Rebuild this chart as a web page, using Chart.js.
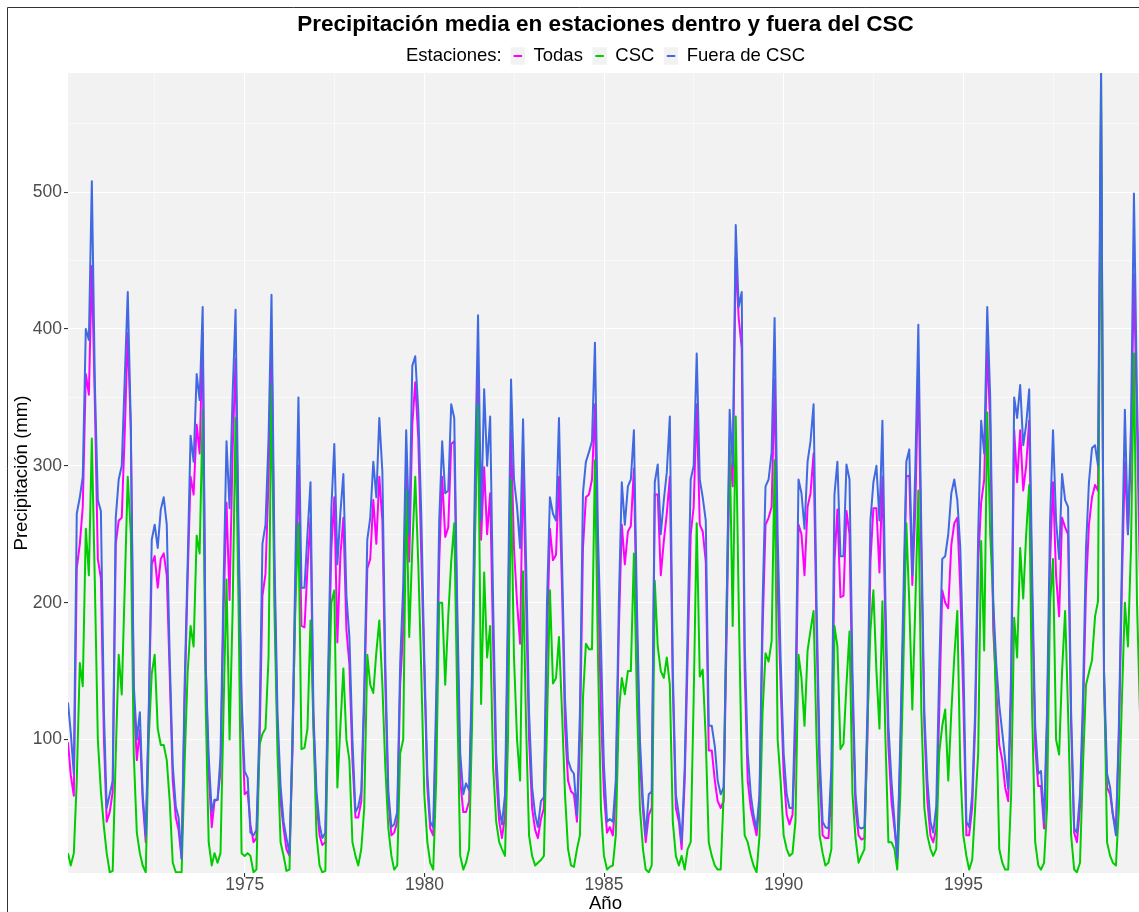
<!DOCTYPE html>
<html>
<head>
<meta charset="utf-8">
<script src="https://cdn.jsdelivr.net/npm/chart.js@4.4.0/dist/chart.umd.min.js"></script>
<style>
html, body { margin: 0; padding: 0; background: #ffffff; overflow: hidden; width: 1139px; height: 912px; }
#wrap { position: absolute; left: 0; top: 0; width: 1152px; height: 930px; }
</style>
</head>
<body>
<div id="wrap"><canvas id="c" width="1152" height="930"></canvas></div>
<script>
// ---------- texts ----------
const chartTitle = 'Precipitación media en estaciones dentro y fuera del CSC';
const legendTitle = 'Estaciones:';
const seriesNames = ['Todas', 'CSC', 'Fuera de CSC'];
const xAxisTitle = 'Año';
const yAxisTitle = 'Precipitación (mm)';

// ---------- tick values ----------
const xMajorTicks = [1975, 1980, 1985, 1990, 1995];
const xMinorTicks = [1972.5, 1977.5, 1982.5, 1987.5, 1992.5, 1997.5];
const yMajorTicks = [100, 200, 300, 400, 500];
const yMinorTicks = [50, 150, 250, 350, 450, 550];

// ---------- categories: monthly, Jan 1970 - Dec 1999 ----------
const startYear = 1970;
const nYears = 30;
const monthLabels = [];
for (let y = startYear; y < startYear + nYears; y++) {
  for (let m = 1; m <= 12; m++) monthLabels.push(y + '-' + String(m).padStart(2, '0'));
}

// ---------- series values (mm), one row per year ----------
const todas = [
  98,74,59,225,243,270,367,352,446,345,232,218,
  100,40,47,62,243,260,262,326,397,326,130,85,
  107,55,25,115,228,234,211,232,236,220,148,70,
  43,34,13,126,217,292,279,330,309,397,156,75,
  36,55,56,77,194,273,202,311,378,232,122,60,
  62,38,25,28,95,205,221,290,397,210,105,55,
  35,20,15,90,210,300,183,182,225,262,110,55,
  30,23,25,140,240,277,171,235,262,180,155,85,
  43,43,55,125,225,232,275,243,292,260,140,55,
  30,32,40,140,180,298,230,330,361,320,235,150,
  65,35,30,110,230,292,248,255,316,318,180,70,
  47,47,55,140,270,367,246,299,250,280,170,75,
  40,28,45,180,326,240,200,170,303,200,100,50,
  34,28,42,50,170,254,231,235,292,210,110,70,
  62,60,40,100,240,277,279,290,345,220,120,60,
  32,36,30,60,180,257,228,252,256,298,180,85,
  48,25,45,50,279,279,220,245,265,292,140,50,
  40,20,70,160,250,270,345,257,252,230,92,92,
  70,55,50,55,180,311,285,453,408,386,150,70,
  50,40,30,55,180,257,262,270,363,210,140,75,
  45,38,45,100,257,250,220,270,280,309,180,75,
  30,28,28,60,230,268,204,205,267,250,130,50,
  30,27,28,100,230,269,269,222,292,180,95,55,
  35,15,90,180,292,293,213,270,371,230,110,55,
  30,25,35,120,209,200,196,242,258,262,210,130,
  30,30,50,110,230,273,290,386,330,180,138,96,
  85,65,55,130,326,288,326,282,300,333,200,95,
  66,66,35,110,230,288,220,190,262,255,250,110,
  32,25,50,115,210,257,277,286,282,560,140,65,
  60,45,35,100,215,303,250,310,440,330,220,150
];
const csc = [
  17,8,17,70,156,139,254,220,320,213,100,62,
  36,17,3,4,89,162,133,213,292,250,89,32,
  17,8,3,100,148,162,108,96,96,85,55,10,
  3,3,3,81,149,183,168,249,236,341,126,25,
  8,17,10,17,122,217,100,194,335,194,17,15,
  17,15,3,5,96,104,108,160,360,190,90,25,
  15,4,5,100,200,258,93,94,108,187,110,30,
  8,3,4,120,200,209,65,110,152,100,85,25,
  15,8,20,50,162,140,134,164,187,140,80,35,
  15,5,8,90,100,282,175,240,292,228,150,60,
  25,10,5,70,200,200,140,190,230,258,130,15,
  5,10,20,110,250,345,126,222,160,183,80,40,
  25,20,15,100,290,160,100,70,223,110,30,15,
  8,10,12,15,110,209,141,145,175,120,60,20,
  8,7,20,30,130,170,166,166,304,160,50,15,
  5,7,8,30,120,145,133,150,150,236,130,50,
  20,5,3,8,216,168,150,145,160,140,40,15,
  8,15,5,20,25,130,258,146,151,100,25,15,
  8,5,5,60,200,320,183,336,200,80,30,25,
  15,8,3,30,120,163,157,172,304,100,70,30,
  20,15,17,40,162,145,110,165,180,194,100,30,
  17,8,10,20,183,168,93,97,140,179,60,28,
  10,15,20,110,180,209,150,108,201,100,25,25,
  20,5,60,150,258,200,122,200,282,120,50,30,
  20,15,20,90,110,122,70,120,160,194,80,30,
  15,5,12,50,90,245,165,339,250,200,120,20,
  10,5,5,60,189,160,240,203,250,286,120,25,
  8,5,10,50,200,232,100,89,150,194,120,30,
  5,3,10,80,140,149,158,190,201,587,150,25,
  15,10,8,50,130,200,168,240,382,200,120,50
];
const fuera = [
  127,105,75,265,277,292,400,392,508,360,275,267,
  120,50,60,70,262,290,300,365,427,330,140,100,
  120,60,30,119,246,257,240,268,277,257,160,81,
  51,43,13,138,228,322,303,367,348,416,156,88,
  47,56,56,88,213,318,269,352,414,250,130,77,
  72,32,30,34,110,243,257,320,425,230,119,66,
  40,28,17,100,232,350,211,211,250,288,119,62,
  38,28,32,156,269,316,228,266,294,205,175,100,
  47,51,62,138,246,262,303,277,335,296,156,62,
  36,38,47,156,213,326,250,373,380,340,265,160,
  75,40,36,130,260,318,280,282,345,335,200,90,
  60,68,63,150,300,410,260,356,300,336,200,90,
  50,38,60,200,363,290,270,240,334,230,120,65,
  45,36,55,58,200,277,265,260,335,230,130,85,
  78,75,45,120,280,303,310,318,390,250,170,80,
  40,42,40,70,200,288,257,285,290,326,200,100,
  55,30,60,62,288,301,250,275,295,336,150,60,
  45,25,80,180,290,300,382,290,277,260,110,110,
  95,70,60,65,200,341,300,476,416,427,170,90,
  60,45,35,60,200,285,290,310,408,250,160,90,
  60,50,50,130,290,280,254,303,318,345,200,90,
  40,36,35,80,279,303,234,234,301,290,150,60,
  36,35,36,120,260,288,300,260,333,200,110,70,
  40,13,100,200,303,312,220,300,403,250,120,70,
  40,32,51,150,232,234,250,280,290,275,240,160,
  40,36,60,120,250,333,309,416,350,200,156,125,
  105,85,64,150,350,335,359,315,330,356,220,110,
  75,77,40,120,260,326,260,232,294,275,270,120,
  35,32,60,130,240,288,313,315,300,587,150,75,
  65,45,30,110,230,341,250,330,499,350,250,180
];

// ---------- styles ----------
const FONT = "'Liberation Sans', Arial, Helvetica, sans-serif";
const seriesColors = ['#FF00FF', '#00CD00', '#4169E1'];
const panelColor = '#F2F2F2';

// month label -> decimal year (month-end date)
function labelToYear(lbl) {
  const parts = lbl.split('-').map(Number);
  const y = parts[0], m = parts[1];
  const d = Date.UTC(y, m, 0);
  const s = Date.UTC(y, 0, 1), e = Date.UTC(y + 1, 0, 1);
  return y + (d - s) / (e - s);
}
const xs = monthLabels.map(labelToYear);
const toPoints = arr => arr.map((v, i) => ({ x: xs[i], y: v }));

const bgPlugin = {
  id: 'bgPanel',
  beforeDraw(chart) {
    const { ctx, chartArea: ca, width, height } = chart;
    ctx.save();
    ctx.fillStyle = '#ffffff';
    ctx.fillRect(0, 0, width, height);
    ctx.strokeStyle = '#333333';
    ctx.lineWidth = 1;
    ctx.beginPath();
    ctx.moveTo(7.5, height);
    ctx.lineTo(7.5, 7.5);
    ctx.lineTo(width, 7.5);
    ctx.stroke();
    ctx.fillStyle = panelColor;
    ctx.fillRect(ca.left, ca.top, ca.right - ca.left, ca.bottom - ca.top);
    ctx.restore();
  }
};

const legendPlugin = {
  id: 'rowLegend',
  afterDraw(chart) {
    const { ctx, chartArea: ca } = chart;
    const fontSize = 18.5;
    const keyW = 14.4, keyH = 17.3, dash = 8.5;
    const gapTitle = 9, gapKeyText = 8.5, gapItem = 9.5;
    const cy = 56;
    ctx.save();
    ctx.font = fontSize + 'px ' + FONT;
    ctx.textBaseline = 'middle';
    ctx.textAlign = 'left';
    const items = chart.data.datasets.map(d => ({ text: d.label, color: d.borderColor }));
    const titleW = ctx.measureText(legendTitle).width;
    let total = titleW + gapTitle;
    items.forEach((it, i) => {
      total += keyW + gapKeyText + ctx.measureText(it.text).width + (i < items.length - 1 ? gapItem : 0);
    });
    let x = (ca.left + ca.right) / 2 - total / 2;
    ctx.fillStyle = '#000000';
    ctx.fillText(legendTitle, x, cy);
    x += titleW + gapTitle;
    items.forEach(it => {
      ctx.fillStyle = panelColor;
      ctx.fillRect(x, cy - keyH / 2, keyW, keyH);
      ctx.strokeStyle = it.color;
      ctx.lineWidth = 2;
      ctx.beginPath();
      ctx.moveTo(x + (keyW - dash) / 2, cy);
      ctx.lineTo(x + (keyW + dash) / 2, cy);
      ctx.stroke();
      x += keyW + gapKeyText;
      ctx.fillStyle = '#000000';
      ctx.fillText(it.text, x, cy);
      x += ctx.measureText(it.text).width + gapItem;
    });
    ctx.restore();
  }
};

const isMajorX = v => xMajorTicks.includes(v);
const isMajorY = v => yMajorTicks.includes(v);

new Chart(document.getElementById('c'), {
  type: 'line',
  data: {
    datasets: [
      { label: seriesNames[0], data: toPoints(todas), borderColor: seriesColors[0], backgroundColor: seriesColors[0], order: 3 },
      { label: seriesNames[1], data: toPoints(csc), borderColor: seriesColors[1], backgroundColor: seriesColors[1], order: 2 },
      { label: seriesNames[2], data: toPoints(fuera), borderColor: seriesColors[2], backgroundColor: seriesColors[2], order: 1 }
    ]
  },
  options: {
    responsive: false,
    animation: false,
    devicePixelRatio: 1,
    events: [],
    elements: {
      line: { borderWidth: 2, tension: 0, fill: false, borderJoinStyle: 'round', borderCapStyle: 'butt' },
      point: { radius: 0, hoverRadius: 0 }
    },
    layout: { padding: { left: 0, right: 9, top: 0, bottom: 0 } },
    plugins: {
      legend: { display: false },
      tooltip: { enabled: false },
      title: {
        display: true,
        text: chartTitle,
        fullSize: false,
        color: '#000000',
        font: { family: FONT, size: 22.5, weight: 'bold' },
        padding: { top: 11.3, bottom: 34.7 }
      }
    },
    scales: {
      x: {
        type: 'linear',
        min: xs[0],
        max: xs[xs.length - 1],
        afterBuildTicks: s => {
          s.ticks = xMajorTicks.concat(xMinorTicks).sort((a, b) => a - b).map(v => ({ value: v }));
        },
        afterFit: s => { s.height = 57; },
        ticks: {
          autoSkip: false,
          maxRotation: 0,
          callback: v => (isMajorX(v) ? String(v) : ''),
          color: '#4D4D4D',
          font: { family: FONT, size: 17.5, lineHeight: 1 },
          padding: -0.75
        },
        grid: {
          color: '#FFFFFF',
          lineWidth: c => (c.tick && isMajorX(c.tick.value) ? 1.1 : 0.55),
          tickColor: c => (c.tick && isMajorX(c.tick.value) ? '#333333' : 'rgba(0,0,0,0)'),
          tickLength: 4,
          drawTicks: true
        },
        border: { display: false },
        title: {
          display: true,
          text: xAxisTitle,
          color: '#000000',
          font: { family: FONT, size: 18.6 },
          padding: { top: 0, bottom: 14.8 }
        }
      },
      y: {
        type: 'linear',
        min: 2.5,
        max: 587,
        afterBuildTicks: s => {
          s.ticks = yMajorTicks.concat(yMinorTicks).sort((a, b) => a - b).map(v => ({ value: v }));
        },
        afterFit: s => { s.width = 68; },
        ticks: {
          autoSkip: false,
          callback: v => (isMajorY(v) ? String(v) : ''),
          color: '#4D4D4D',
          font: { family: FONT, size: 17.5 },
          padding: 2
        },
        grid: {
          color: '#FFFFFF',
          lineWidth: c => (c.tick && isMajorY(c.tick.value) ? 1.1 : 0.55),
          tickColor: c => (c.tick && isMajorY(c.tick.value) ? '#333333' : 'rgba(0,0,0,0)'),
          tickLength: 4,
          drawTicks: true
        },
        border: { display: false },
        title: {
          display: true,
          text: yAxisTitle,
          color: '#000000',
          font: { family: FONT, size: 18.6 },
          padding: { top: 10.8, bottom: 0 }
        }
      }
    }
  },
  plugins: [bgPlugin, legendPlugin]
});
</script>
</body>
</html>
